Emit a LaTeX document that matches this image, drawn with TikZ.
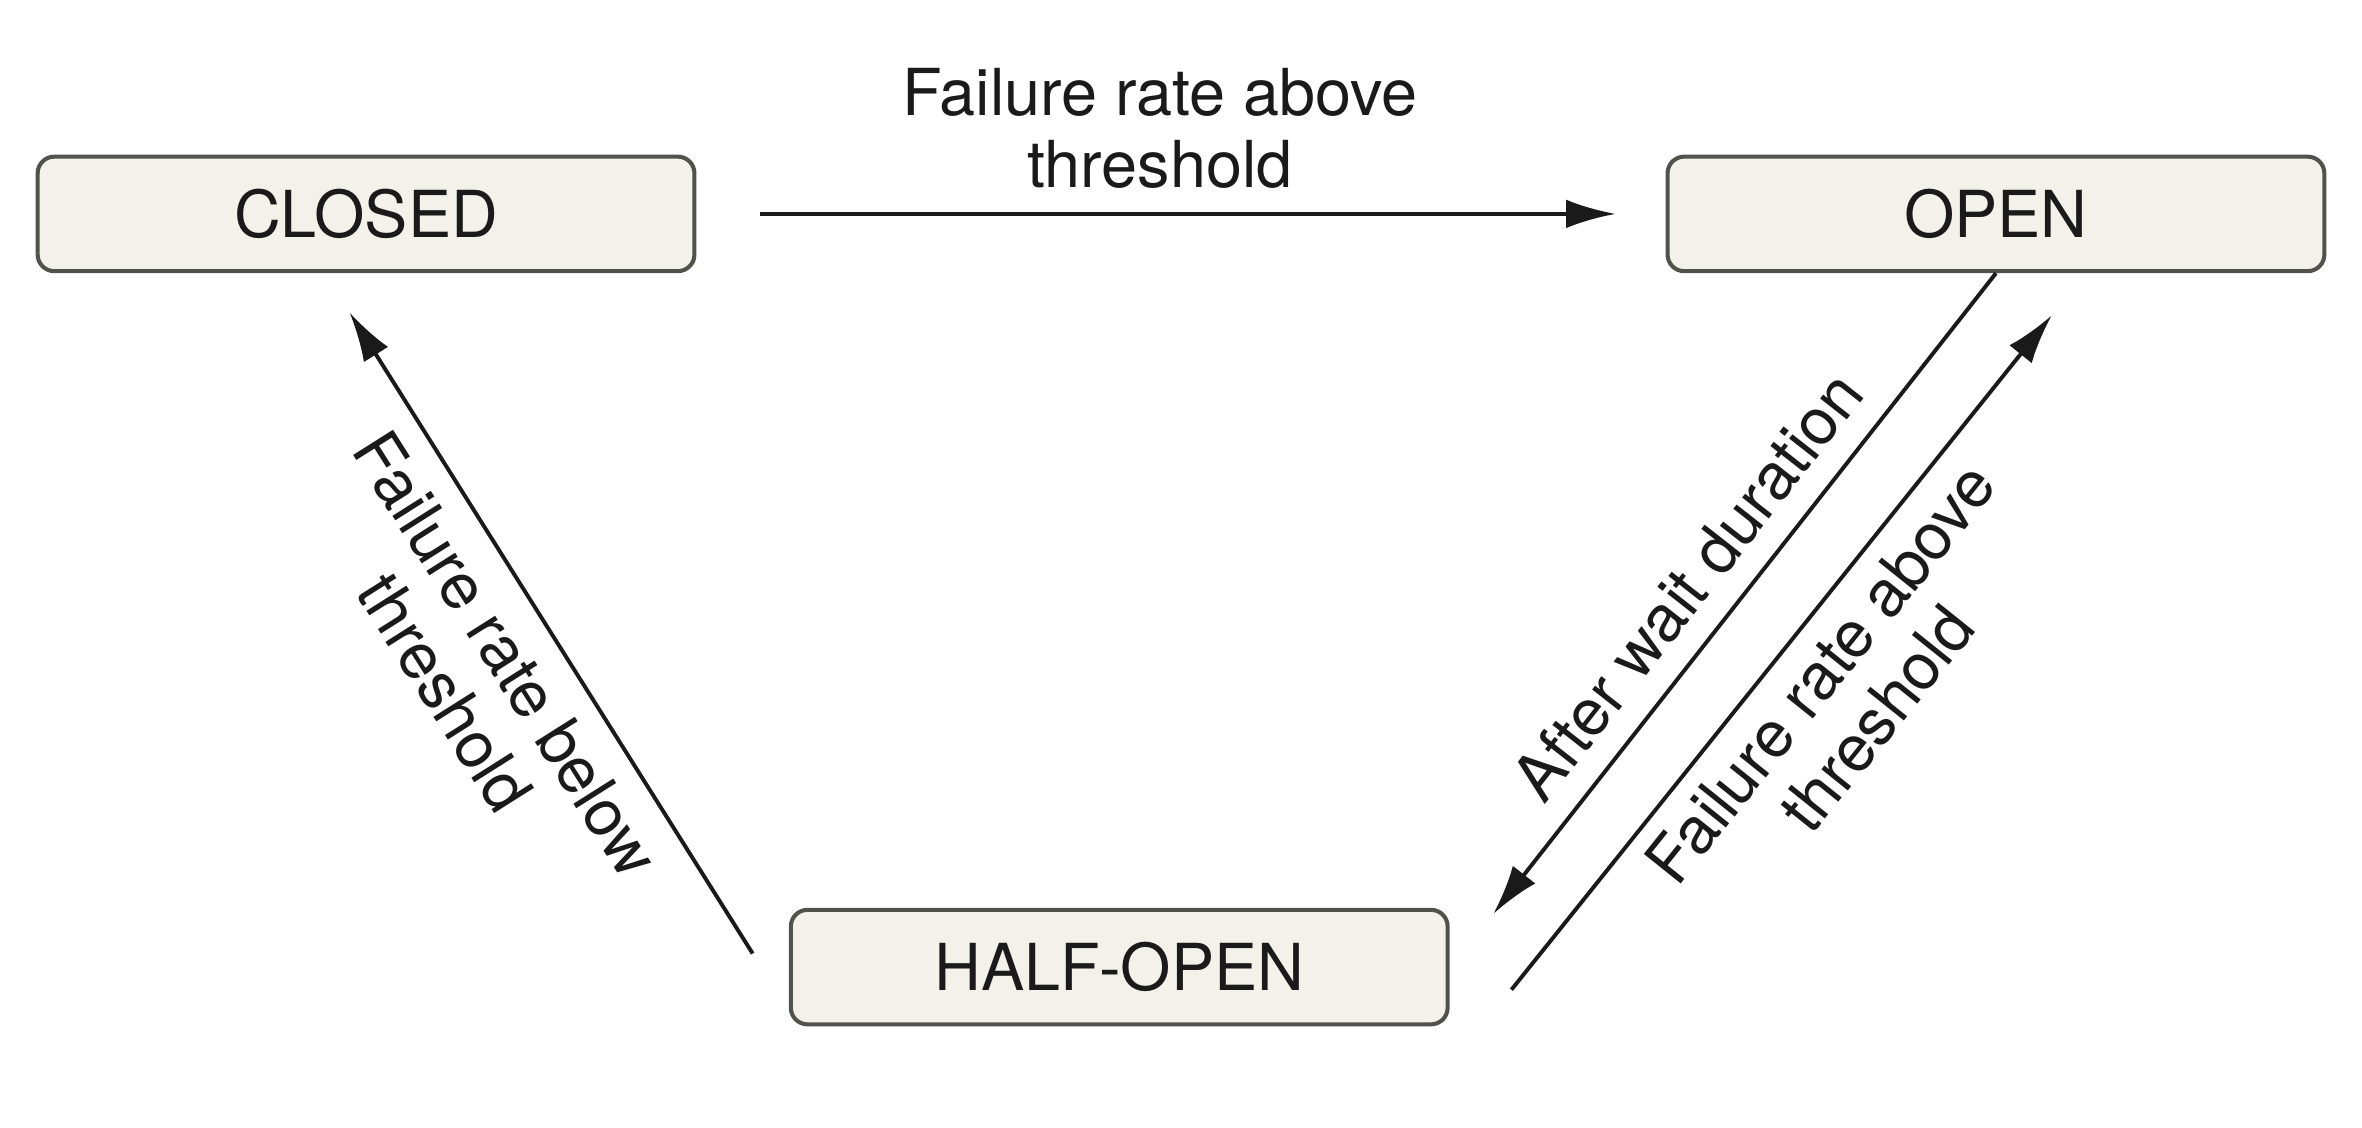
\documentclass[tikz,border=0pt]{standalone}
\usepackage{fontspec}
\setmainfont{TeX Gyre Heros}
\usetikzlibrary{arrows.meta}
\definecolor{boxfill}{HTML}{F2F2EA}
\definecolor{boxline}{HTML}{52524D}
\definecolor{ink}{HTML}{1A1A1A}
\tikzstyle{state} = [rectangle, draw=boxline, fill=boxfill, line width=1.35pt,
    rounded corners=5.5pt, minimum width=218pt, minimum height=38pt,
    text=ink, font=\fontsize{21.5}{24}\selectfont]
\tikzstyle{line} = [draw=ink, line width=1.3pt, -{Latex[length=16.5pt,width=9.5pt]}]
\tikzstyle{note} = [text=ink, align=center, inner sep=0pt,
    font=\fontsize{21.5}{24}\selectfont]

\begin{document}
\begin{tikzpicture}[x=0.5pt, y=-0.5pt]
	    \useasboundingbox (0,0) rectangle (1568,748.8);
	    % Place states
	    \node [state] (closed) at (243,142) {CLOSED};
	    \node [state] (open) at (1325,142) {OPEN};
	    \node [state] (halfopen) at (743,642) {HALF-OPEN};
	    % Free ends of the slanted edges
	    \coordinate (belowstart) at ([shift={(-24,-9)}]halfopen.west);
	    \coordinate (belowend) at ([shift={(-11,26)}]closed.south);
	    \coordinate (waitend) at ([shift={(29,4)}]halfopen.north east);
	    \coordinate (abovestart) at ([shift={(41,15)}]halfopen.east);
	    \coordinate (aboveend) at ([shift={(37,28)}]open.south);
	    % Draw edges
	    \path [line, shorten <=21pt, shorten >=16.5pt] (closed) -- (open);
	    \path [line] (belowstart) -- (belowend);
	    \path [line] (open.south) -- (waitend);
	    \path [line] (abovestart) -- (aboveend);
	    % Edge labels
	    \node [note] (toplabel) at (770,85) {Failure rate above\\threshold};
	    \node [note, rotate=-57.7] (belowlabel) at (316,447) {Failure rate below\\threshold};
	    \node [note, rotate=51.9] (waitlabel) at (1120,389) {After wait duration};
	    \node [note, rotate=51.3] (abovelabel) at (1227,462) {Failure rate above\\threshold};
	\end{tikzpicture}
\end{document}
